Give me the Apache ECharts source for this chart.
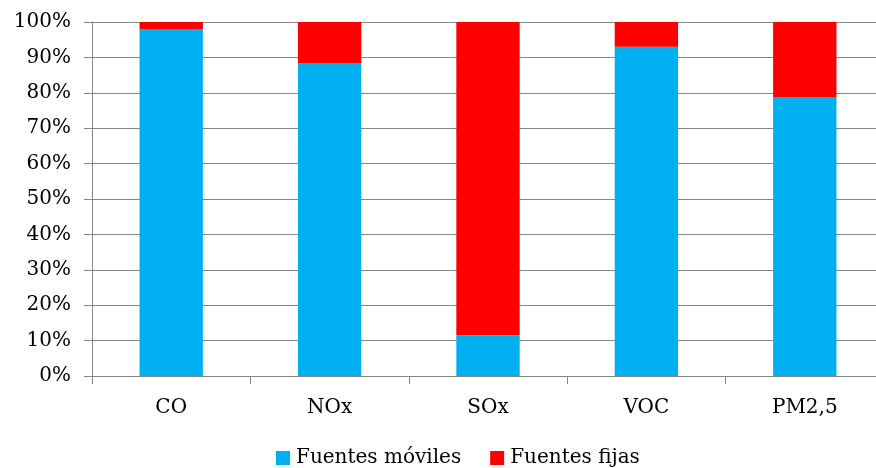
<!DOCTYPE html>
<html><head><meta charset="utf-8">
<script src="https://cdn.jsdelivr.net/npm/echarts@6/dist/echarts.min.js"></script>
<style>html,body{margin:0;padding:0;background:#fff;overflow:hidden}#c{width:884px;height:468px}</style>
</head><body><div id="c"></div>
<script>
const categories = ['CO', 'NOx', 'SOx', 'VOC', 'PM2,5'];
const movilesValues = [98.0, 88.3, 11.5, 93.0, 78.7];
const fijasValues = [2.0, 11.7, 88.5, 7.0, 21.3];
const seriesNames = ['Fuentes móviles', 'Fuentes fijas'];
const FONT = 'DejaVu Serif';
const chart = echarts.init(document.getElementById('c'), null, {renderer: 'canvas'});
chart.setOption({
  animation: false,
  grid: {left: 92, top: 22, right: 0, bottom: 92, containLabel: false},
  legend: {
    top: 443, left: 271, itemWidth: 14, itemHeight: 14, itemGap: 29,
    icon: 'rect',
    textStyle: {fontFamily: FONT, fontSize: 20, color: '#000', padding: [0, 0, 0, 1]},
    data: seriesNames
  },
  xAxis: {
    type: 'category', data: categories,
    axisLine: {lineStyle: {color: '#868686', width: 1}},
    axisTick: {show: true, length: 8, lineStyle: {color: '#868686'}},
    axisLabel: {fontFamily: FONT, fontSize: 20, color: '#000', margin: 22}
  },
  yAxis: {
    type: 'value', min: 0, max: 100, interval: 10,
    axisLine: {show: true, lineStyle: {color: '#868686', width: 1}},
    axisTick: {show: true, length: 8, lineStyle: {color: '#868686'}},
    axisLabel: {fontFamily: FONT, fontSize: 20, color: '#000', margin: 21, formatter: '{value}%'},
    splitLine: {show: true, lineStyle: {color: '#868686', width: 1}}
  },
  series: [
    {name: seriesNames[0], type: 'bar', stack: 's', data: movilesValues, barWidth: '40%',
     itemStyle: {color: '#00B0F0'}},
    {name: seriesNames[1], type: 'bar', stack: 's', data: fijasValues, barWidth: '40%',
     itemStyle: {color: '#FF0000'}}
  ]
});
</script></body></html>
